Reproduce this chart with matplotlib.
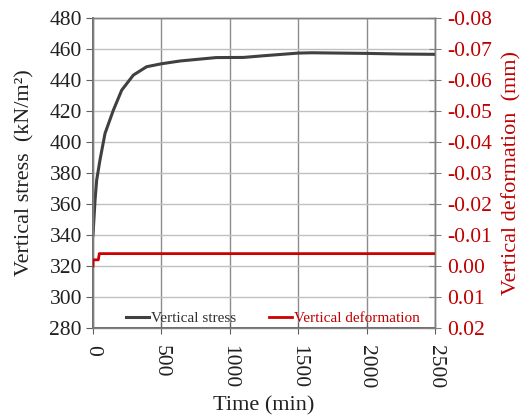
import matplotlib
matplotlib.use("Agg")
import matplotlib.pyplot as plt
from matplotlib.ticker import FixedLocator

plt.rcParams['font.family'] = ['Liberation Serif', 'DejaVu Serif']

# Measured series
time_stress = [0, 15, 27, 51, 88, 149, 210, 295, 392, 500, 636, 900, 1100, 1250, 1500, 1600, 2000, 2250, 2500]
stress = [340, 362.6, 375.5, 388.4, 405.6, 420.6, 433.5, 443.2, 448.6, 450.5, 452.3, 454.5, 454.6, 455.7, 457.4, 457.6, 457.2, 456.8, 456.6]

time_def = [0, 1, 39, 46, 2500]
deformation = [0.0, -0.002, -0.002, -0.004, -0.004]

x_ticks = [0, 500, 1000, 1500, 2000, 2500]
stress_ticks = [280, 300, 320, 340, 360, 380, 400, 420, 440, 460, 480]
def_ticks = [-0.08, -0.07, -0.06, -0.05, -0.04, -0.03, -0.02, -0.01, 0.00, 0.01, 0.02]

RED = '#cc0000'
TXT_RED = '#c00000'
DARK = '#404040'

fig = plt.figure(figsize=(5.26, 4.2), dpi=100)
ax = fig.add_axes([0.1768, 0.219, 0.8270 - 0.1768, 0.957 - 0.219])

ax.set_xlim(0, 2500)
ax.set_ylim(280, 480)
ax.xaxis.set_major_locator(FixedLocator(x_ticks))
ax.yaxis.set_major_locator(FixedLocator(stress_ticks))
ax.grid(True, axis='y', color='#c0c0c0', linewidth=1.0)
ax.grid(True, axis='x', color='#8c8c8c', linewidth=1.0)
ax.set_axisbelow(True)

l1, = ax.plot(time_stress, stress, color=DARK, linewidth=2.2, label='Vertical stress', zorder=3)

ax2 = ax.twinx()
ax2.set_ylim(0.02, -0.08)
ax2.yaxis.set_major_locator(FixedLocator(def_ticks))
ax2.set_yticklabels([f"{v:.2f}" for v in def_ticks])
l2, = ax2.plot(time_def, deformation, color=RED, linewidth=2.0, label='Vertical deformation', zorder=3)

for a in (ax, ax2):
    for s in a.spines.values():
        s.set_color('#808080')
        s.set_linewidth(1.0)
ax.spines['left'].set_color('#606060')
ax.spines['bottom'].set_color('#606060')
ax.spines['left'].set_linewidth(1.3)
ax.spines['bottom'].set_linewidth(1.3)

ax.tick_params(axis='y', direction='out', length=5, color='#606060', labelsize=15.5, pad=3)
ax.tick_params(axis='x', direction='inout', length=8, color='#606060', labelsize=15.5,
               labelrotation=-90, pad=8)
ax2.tick_params(axis='y', direction='inout', length=8, color='#808080', labelsize=15.5,
                labelcolor=TXT_RED, pad=5)

ax.set_ylabel('Vertical stress  (kN/m²)', fontsize=16, color='#202020', labelpad=11)
ax.set_xlabel('Time (min)', fontsize=16, color='#202020', labelpad=6)
ax2.set_ylabel('Vertical deformation  (mm)', fontsize=16, color=TXT_RED, labelpad=7)
for lbl in ax.get_xticklabels() + ax.get_yticklabels():
    lbl.set_color('#202020')

leg = ax.legend([l1, l2], ['Vertical stress', 'Vertical deformation'], loc='lower center',
                bbox_to_anchor=(0.526, -0.035), ncol=2, frameon=False, fontsize=11.0,
                handlelength=1.5, handletextpad=0.1, columnspacing=2.2)
leg.get_texts()[0].set_color('#303030')
leg.get_texts()[1].set_color(TXT_RED)

fig.savefig('out.png', dpi=100)
